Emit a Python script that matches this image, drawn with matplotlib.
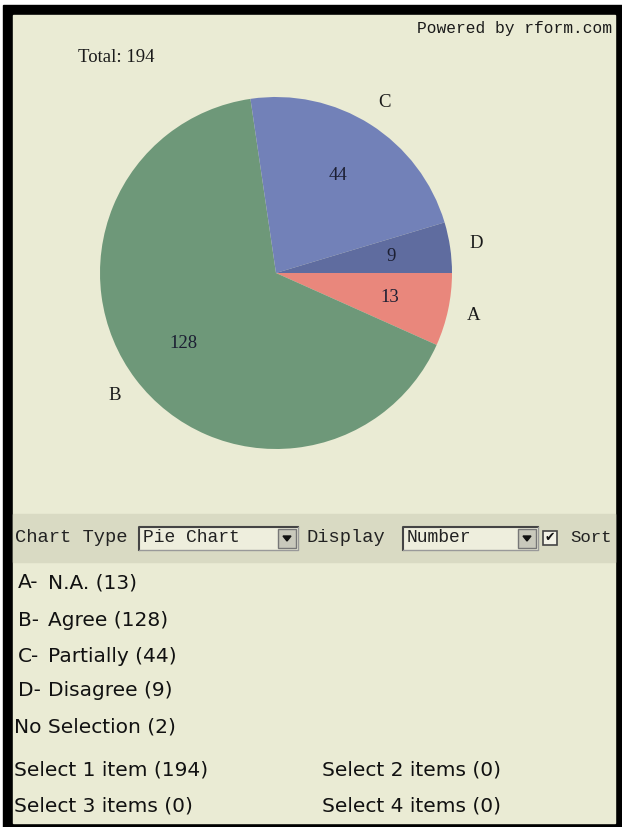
import matplotlib
matplotlib.use('Agg')
import matplotlib.pyplot as plt
from matplotlib.patches import Rectangle, Polygon

# Data
letters = ['A', 'B', 'C', 'D']
answers = ['N.A.', 'Agree', 'Partially', 'Disagree']
counts = [13, 128, 44, 9]
total = 194
no_selection = 2
select_counts = [194, 0, 0, 0]
colors = ['#E9877C', '#6E9879', '#7281B8', '#5F6C9F']

W, H = 622, 827
fig = plt.figure(figsize=(W / 100, H / 100), dpi=100, facecolor='white')

# background axes in pixel coords (y down)
ax = fig.add_axes([0, 0, 1, 1])
ax.set_xlim(0, W)
ax.set_ylim(H, 0)
ax.axis('off')

ax.add_patch(Rectangle((3, 5), W - 3, H - 5, color='black', zorder=0))
ax.add_patch(Rectangle((13, 15), 602, 808, color='#EAEBD4', zorder=1))
ax.add_patch(Rectangle((13, 514), 602, 48, color='#D9DAC3', zorder=2))

serif = 'Liberation Serif'
mono = 'Liberation Mono'
sans = 'DejaVu Sans'

ax.text(612, 29, 'Powered by rform.com', family=mono, fontsize=11.7,
        ha='right', va='center', color='#1a1a1a', zorder=5)
ax.text(78, 58, 'Total: %d' % total, family=serif, fontsize=13.5,
        ha='left', va='center', color='#1a1a1a', zorder=5)

# pie axes (y up)
axp = fig.add_axes([0, 0, 1, 1], zorder=3)
axp.patch.set_alpha(0)
cx, cy, r = 276, H - 273, 176
wedges, labels, nums = axp.pie(
    counts, labels=letters, colors=colors, startangle=0, counterclock=False,
    center=(cx, cy), radius=r, frame=True, labeldistance=1.15,
    pctdistance=0.66,
    autopct=lambda p: '%d' % round(p * sum(counts) / 100),
    textprops={'family': serif, 'fontsize': 13.5, 'color': '#1a1a1a'})
for t in labels:
    t.set_ha('center')
for t in nums:
    t.set_color('#1c1f33')
axp.set_xlim(0, W)
axp.set_ylim(0, H)
axp.set_aspect('auto')
axp.axis('off')

# toolbar
ty = 538
ax.text(15, ty, 'Chart Type', family=mono, fontsize=13.5, ha='left',
        va='center', color='#222', zorder=5)
ax.text(306, ty, 'Display', family=mono, fontsize=13.5, ha='left',
        va='center', color='#222', zorder=5)
ax.text(612, ty, 'Sort', family=mono, fontsize=12.5, ha='right',
        va='center', color='#222', zorder=5)


def dropdown(x0, x1, label):
    ax.add_patch(Rectangle((x0, 527), x1 - x0, 23, facecolor='#EEEEDD',
                           edgecolor='none', zorder=3))
    ax.plot([x0, x0, x1], [550, 527, 527], color='#444', lw=1.5, zorder=4)
    ax.plot([x0, x1, x1], [550, 550, 527], color='#999', lw=1, zorder=4)
    ax.add_patch(Rectangle((x1 - 20, 529), 18, 19, facecolor='#C9C9BC',
                           edgecolor='#777', lw=1, zorder=4))
    ax.add_patch(Polygon([(x1 - 15, 536), (x1 - 7, 536), (x1 - 11, 541)],
                         color='#111', zorder=5))
    ax.text(x0 + 4, ty, label, family=mono, fontsize=13, ha='left',
            va='center', color='#222', zorder=5)


dropdown(139, 298, 'Pie Chart')
dropdown(403, 538, 'Number')
ax.add_patch(Rectangle((543, 531), 14, 14, facecolor='#F2F2E6',
                       edgecolor='#444', lw=1.2, zorder=4))
ax.text(550, 538, '\u2714', family=sans, fontsize=9, ha='center',
        va='center', color='#111', zorder=5)

# answer list
list_y = [583, 620, 656, 691]
for l, a, c, y in zip(letters, answers, counts, list_y):
    ax.text(18, y, l + '-', family=sans, fontsize=14.5, ha='left',
            va='center', color='#111', zorder=5)
    ax.text(48, y, '%s (%d)' % (a, c), family=sans, fontsize=14.5,
            ha='left', va='center', color='#111', zorder=5)
ax.text(14, 727, 'No Selection (%d)' % no_selection, family=sans,
        fontsize=14.5, ha='left', va='center', color='#111', zorder=5)

sel_pos = [(14, 770), (322, 770), (14, 806), (322, 806)]
for i, (n, (x, y)) in enumerate(zip(select_counts, sel_pos)):
    word = 'item' if i == 0 else 'items'
    ax.text(x, y, 'Select %d %s (%d)' % (i + 1, word, n), family=sans,
            fontsize=14.5, ha='left', va='center', color='#111', zorder=5)

fig.savefig('out.png', dpi=100, facecolor=fig.get_facecolor())
